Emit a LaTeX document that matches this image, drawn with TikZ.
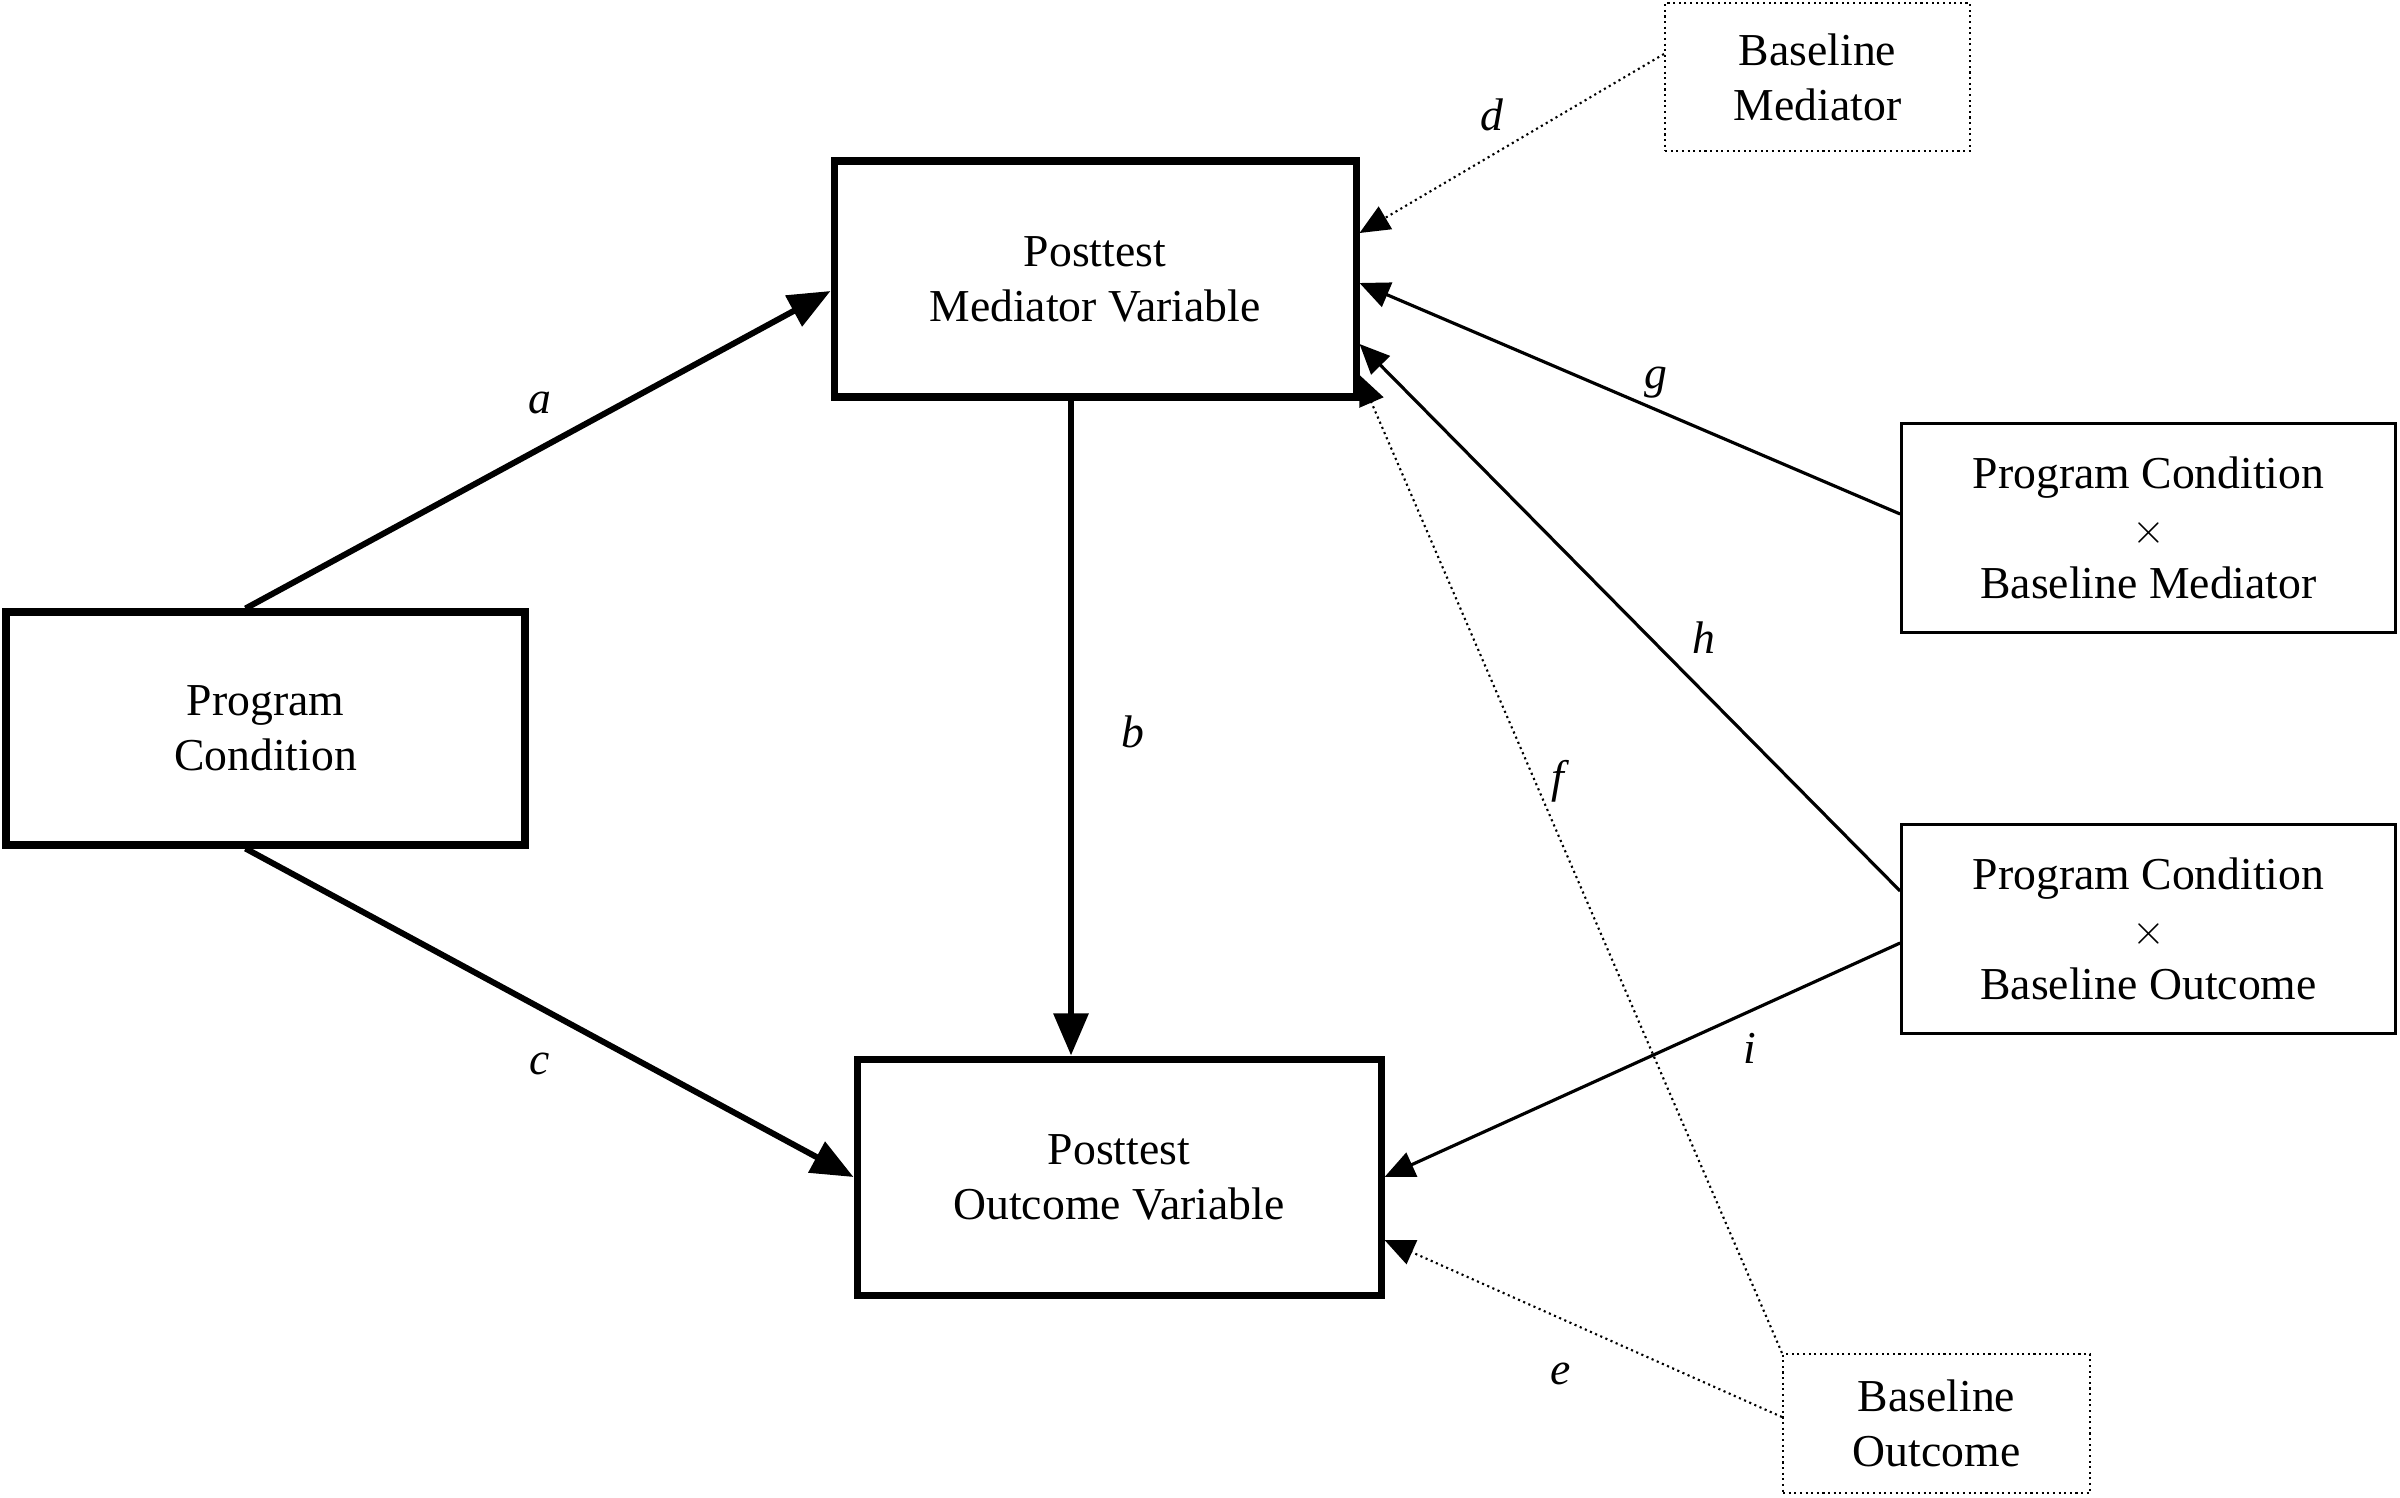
\documentclass[tikz,border=0pt]{standalone}
\usepackage{fontspec}
\setmainfont{Liberation Serif}
\usepackage{tikz}
\usetikzlibrary{arrows.meta}
\usetikzlibrary{positioning}

\begin{document}
\begin{tikzpicture}[
  font=\fontsize{13}{15.6}\selectfont,
  mainbox/.style={draw,line width=2pt,align=center,inner sep=0pt},
  sidebox/.style={draw,line width=0.8pt,align=center,inner sep=0pt,minimum width=4.94cm,minimum height=2.09cm},
  basebox/.style={draw,densely dotted,line width=0.6pt,align=center,inner sep=0pt},
  strong/.style={line width=1.7pt,-{Triangle[length=0.42cm,width=0.34cm]}},
  plain/.style={line width=0.9pt,-{Triangle[length=0.3cm,width=0.26cm]}},
  faint/.style={densely dotted,line width=0.6pt,-{Triangle[length=0.3cm,width=0.26cm]}},
  coef/.style={font=\fontsize{13}{15.6}\selectfont\itshape}]
  \useasboundingbox (0,0) rectangle (24,14.97);
  \node(prog)[mainbox,minimum width=5.19cm,minimum height=2.33cm] at (2.655,7.685) {Program\\Condition};
  \node(med)[mainbox,minimum width=5.22cm,minimum height=2.36cm] at (10.95,12.18) {Posttest\\Mediator Variable};
  \node(out)[mainbox,minimum width=5.24cm,minimum height=2.36cm] at (11.19,3.20) {Posttest\\Outcome Variable};
  \node(bmed)[basebox,minimum width=3.05cm,minimum height=1.48cm] at (18.175,14.2) {Baseline\\Mediator};
  \node(bout)[basebox,minimum width=3.07cm,minimum height=1.39cm] at (19.365,0.735) {Baseline\\Outcome};
  \node(pxm)[sidebox] at (21.485,9.69) {Program Condition\\$\times$\\Baseline Mediator};
  \node(pxo)[sidebox] at (21.485,5.68) {Program Condition\\$\times$\\Baseline Outcome};
  \draw[strong] ([xshift=-2mm]prog.north) -- ([yshift=-1.2mm]med.west);
  \draw[strong] ([xshift=-2mm]prog.south) -- (out.west);
  \draw[strong] ([xshift=-2.4mm]med.south) -- ([xshift=-2.4mm]med.south |- out.north);
  \draw[faint] ([yshift=2.3mm]bmed.west) -- ([yshift=4.6mm]med.east);
  \draw[plain] ([yshift=1.4mm]pxm.west) -- ([yshift=-0.4mm]med.east);
  \draw[plain] ([yshift=3.8mm]pxo.west) -- ([yshift=-6.5mm]med.east);
  \draw[faint] (bout.north west) -- ([yshift=-9.6mm]med.east);
  \draw[plain] ([yshift=-1.4mm]pxo.west) -- (out.east);
  \draw[faint] ([yshift=0.65mm]bout.west) -- ([yshift=-6.3mm]out.east);
  \node(la)[coef] at (5.40,10.94) {a};
  \node(lc)[coef] at (5.40,4.33) {c};
  \node(lb)[coef] at (11.33,7.65) {b};
  \node(ld)[coef] at (14.92,13.82) {d};
  \node(lg)[coef] at (16.56,11.14) {g};
  \node(lh)[coef] at (17.04,8.59) {h};
  \node(lf)[coef] at (15.58,7.16) {f};
  \node(li)[coef] at (17.50,4.49) {i};
  \node(le)[coef] at (15.61,1.23) {e};
\end{tikzpicture}
\end{document}
